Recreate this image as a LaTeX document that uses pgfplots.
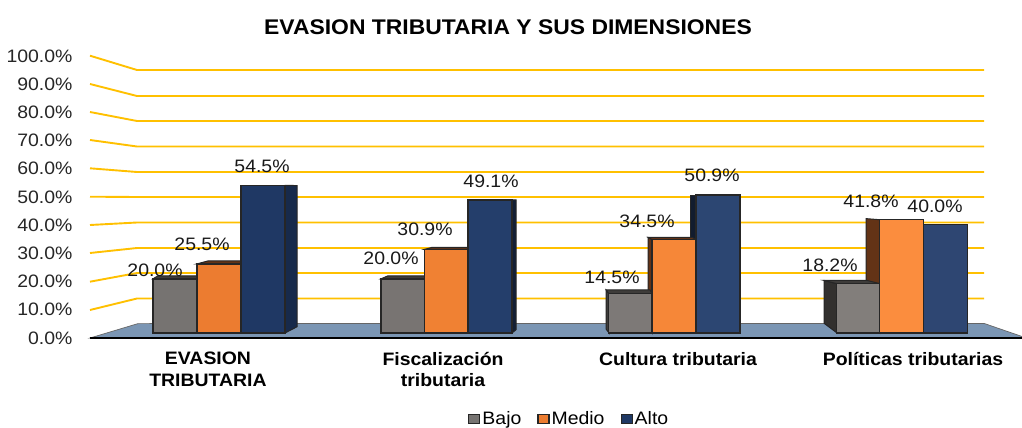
\documentclass[border=0pt]{standalone}
\usepackage{fontspec}
\setmainfont[FakeStretch=1.08]{Liberation Sans}
\usepackage{pgfplots}
\pgfplotsset{compat=1.18}

\definecolor{gridc}{HTML}{FFC000}
\definecolor{floorc}{HTML}{7B96B4}
\definecolor{grayA}{HTML}{767371}\definecolor{grayB}{HTML}{787472}\definecolor{grayC}{HTML}{7D7977}\definecolor{grayD}{HTML}{827E7B}
\definecolor{orA}{HTML}{EC7C30}\definecolor{orB}{HTML}{F08133}\definecolor{orC}{HTML}{F68738}\definecolor{orD}{HTML}{FB8D3E}
\definecolor{blA}{HTML}{1F3864}\definecolor{blB}{HTML}{243E6B}\definecolor{blC}{HTML}{2C4672}\definecolor{blD}{HTML}{2E4672}
\definecolor{orside}{HTML}{633316}
\definecolor{graytop}{HTML}{3E3C3A}

\pgfplotsset{
  canvas/.style={at={(0pt,0pt)},anchor=south west,scale only axis,width=1022pt,height=428pt,
    xmin=0,xmax=1022,ymin=0,ymax=428,y dir=reverse,hide axis,clip=false},
  gl/.style={draw=gridc,line width=1.9pt,forget plot},
  face/.style={draw=black!85,line width=1pt,forget plot},
  front/.style={ybar,bar shift=0pt,bar width=44,draw=black!85,line width=1.5pt,forget plot},
}

\begin{document}
\begin{tikzpicture}
\path[use as bounding box] (0pt,0pt) rectangle (1022pt,428pt);

% floor and back wall, pixel positions
\begin{axis}[canvas]
\addplot[gl] coordinates {(90,310)(137,298.5)(984,298.5)};
\addplot[gl] coordinates {(90,281.7)(137,273)(984,273)};
\addplot[gl] coordinates {(90,253)(137,248)(984,248)};
\addplot[gl] coordinates {(90,225)(137,222.5)(984,222.5)};
\addplot[gl] coordinates {(90,196.7)(137,197)(984,197)};
\addplot[gl] coordinates {(90,168.3)(137,172)(984,172)};
\addplot[gl] coordinates {(90,140)(137,146.5)(984,146.5)};
\addplot[gl] coordinates {(90,112)(137,121)(984,121)};
\addplot[gl] coordinates {(90,84)(137,96)(984,96)};
\addplot[gl] coordinates {(90,55.7)(137,70)(984,70)};
\addplot[fill=floorc,draw=black!60,line width=0.7pt,forget plot] coordinates {(90,338)(138,323.6)(984,323.4)(1022,336.5)(1022,338)} -- cycle;
\end{axis}

% bars: x in pixels, y in percent
\begin{axis}[at={(0pt,95pt)},anchor=south west,scale only axis,width=1022pt,height=271pt,
  xmin=0,xmax=1022,ymin=0,ymax=100,hide axis,clip=false,
  legend style={at={(0.458,-0.318)},anchor=west,draw=none,fill=none,inner sep=0pt,
    font=\fontsize{18}{20}\selectfont,legend columns=3,
    /tikz/every even column/.append style={column sep=14pt}},
  legend image code/.code={\draw[#1,draw=black!85,line width=1.2pt] (0pt,-4.5pt) rectangle (11pt,4.5pt);},
]
% side and top faces
\addplot[face,fill=graytop] coordinates {(153,20)(158,21.1)(201,21.1)(197,20)} -- cycle;
\addplot[face,fill=orside] coordinates {(197,25.5)(208,26.6)(245,26.6)(241,25.5)} -- cycle;
\addplot[face,fill=blA!75!black] coordinates {(285,0)(285,54.5)(297,54.4)(297,2.3)} -- cycle;

\addplot[face,fill=graytop] coordinates {(381,20)(388,21.1)(429,21.1)(425,20)} -- cycle;
\addplot[face,fill=orside] coordinates {(425,30.9)(432,31.6)(472,31.6)(468,30.9)} -- cycle;
\addplot[face,fill=blB!50!black] coordinates {(512,0)(512,49.1)(516,49.1)(516,1.2)} -- cycle;

\addplot[face,fill=blC!40!black] coordinates {(696,30)(696,50.9)(690,50.9)(690,30)} -- cycle;
\addplot[face,fill=orside] coordinates {(652,0)(652,34.5)(648,35.3)(648,2)} -- cycle;
\addplot[face,fill=orside] coordinates {(652,34.5)(648,35.3)(692,35.3)(696,34.5)} -- cycle;
\addplot[face,fill=graytop] coordinates {(609,0)(609,14.5)(606,15.9)(606,1.5)} -- cycle;
\addplot[face,fill=graytop] coordinates {(609,14.5)(606,15.9)(650,15.9)(652,14.5)} -- cycle;

\addplot[face,fill=orside] coordinates {(880,0)(880,41.8)(866,42.2)(866,5)} -- cycle;
\addplot[face,fill=graytop!80!black] coordinates {(837,0)(837,18.2)(824,19.4)(824,3.6)} -- cycle;
\addplot[face,fill=graytop] coordinates {(837,18.2)(824,19.4)(867,19.4)(880,18.2)} -- cycle;
% front faces
\addplot[front,fill=grayA] coordinates {(175,20.0)};
\addplot[front,fill=orA] coordinates {(219,25.5)};
\addplot[front,fill=blA] coordinates {(263,54.5)};
\addplot[front,fill=grayB] coordinates {(403,20.0)};
\addplot[front,fill=orB] coordinates {(446.5,30.9)};
\addplot[front,fill=blB] coordinates {(490,49.1)};
\addplot[front,fill=grayC] coordinates {(630.5,14.5)};
\addplot[front,fill=orC] coordinates {(674,34.5)};
\addplot[front,fill=blC] coordinates {(718,50.9)};
\addplot[front,fill=grayD] coordinates {(858.5,18.2)};
\addplot[front,fill=orD] coordinates {(901.5,41.8)};
\addplot[front,fill=blD] coordinates {(945.5,40.0)};
\addlegendimage{fill=grayA}\addlegendentry{Bajo}
\addlegendimage{fill=orA}\addlegendentry{Medio}
\addlegendimage{fill=blA}\addlegendentry{Alto}
\end{axis}

% front axis with the tick labels and title
\begin{axis}[at={(90pt,90pt)},anchor=south west,scale only axis,width=932pt,height=282pt,
  xmin=90,xmax=1022,ymin=0,ymax=100,clip=false,
  axis x line*=bottom,axis y line*=left,
  x axis line style={line width=2.6pt,black,-},
  y axis line style={draw=none},
  major tick length=0pt,
  ytick={0,10,...,100},
  xtick={208,443,678,913},
  xticklabels={{EVASION\\TRIBUTARIA},{Fiscalización\\tributaria},{Cultura tributaria},{Políticas tributarias}},
  xticklabel style={align=center,font=\fontsize{18}{21.5}\selectfont\bfseries,yshift=-10.5pt},
  yticklabel={\pgfmathprintnumber{\tick}\%},
  yticklabel style={font=\fontsize{18}{20}\selectfont,color=black!85,xshift=-14pt,
    /pgf/number format/.cd,fixed,fixed zerofill,precision=1,assume math mode=true},
  title={EVASION TRIBUTARIA Y SUS DIMENSIONES},
  title style={at={(0.4485,1.082)},anchor=center,font=\fontsize{21.2}{23}\selectfont\bfseries},
]
\addplot[draw=none,forget plot] coordinates {(90,0)(1022,0)};
\end{axis}

% data labels, centred at pixel positions
\begin{axis}[canvas,
  nodes near coords={\pgfmathprintnumber[fixed,fixed zerofill,precision=1,assume math mode=true]{\pgfplotspointmeta}\%},
  every node near coord/.append style={anchor=center,font=\fontsize{18}{20}\selectfont,color=black!90,inner sep=0pt},
]
\addplot[draw=none,point meta=explicit,forget plot] coordinates {
(155,270)[20.0] (202,244)[25.5] (262,166)[54.5]
(391,258)[20.0] (425,229)[30.9] (491,181)[49.1]
(612,277)[14.5] (647,221)[34.5] (712,175)[50.9]
(830,265)[18.2] (871,201)[41.8] (935,206)[40.0]};
\end{axis}
\end{tikzpicture}
\end{document}
